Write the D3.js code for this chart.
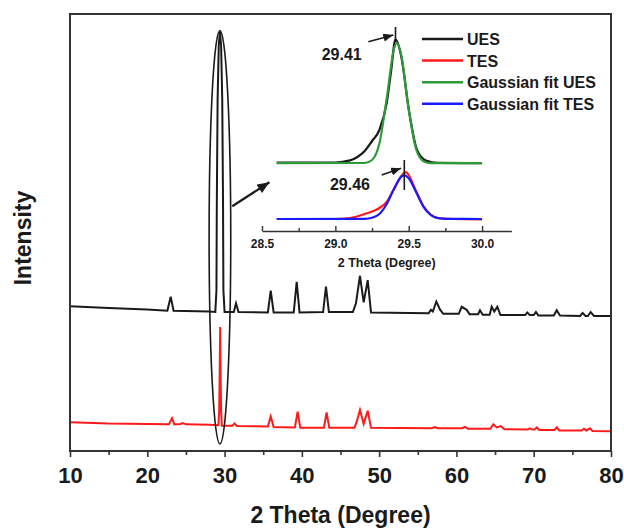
<!DOCTYPE html>
<html>
<head>
<meta charset="utf-8">
<script src="https://cdn.jsdelivr.net/npm/d3@7"></script>
<style>
body { margin: 0; background: #fff; }
text { font-family: "Liberation Sans", Arial, sans-serif; font-weight: bold; fill: #1a1a1a; }
</style>
</head>
<body>
<svg id="chartSvg"></svg>
<script>
// main pattern, [2 theta, intensity (a.u.)]
uesMain = [[10,33.1],[15,32.7],[20,32.4],[22.6,32.1],[23.03,35.3],[23.4,32.1],[28,31.9],[28.8,31.8],
  [28.95,36.8],[29.0,57.4],[29.1,80.3],[29.25,92.9],[29.4,95.9],[29.55,92.9],[29.7,80.3],[29.8,57.4],[29.85,36.8],[30.0,31.8],
  [31.2,31.8],[31.48,33.8],[31.8,31.8],[35.6,31.7],[35.97,36.7],[36.35,31.7],[38.95,31.7],[39.33,38.7],[39.7,31.7],
  [42.75,31.8],[43.12,37.6],[43.5,31.8],[46.6,31.8],[47.0,33.8],[47.52,40.1],[48.0,34.0],[48.52,39.1],[48.95,31.7],
  [56.4,31.5],[56.7,32.3],[56.95,31.9],[57.4,34.2],[57.9,32.3],[58.3,31.4],[60.3,31.4],[60.68,33.0],[61.33,32.3],[61.7,31.3],
  [62.8,31.3],[63.05,32.2],[63.4,31.2],[64.3,31.2],[64.56,33.0],[64.9,31.9],[65.29,33.0],[65.7,31.1],[68.9,31.1],[69.17,31.7],
  [69.5,31.1],[70.0,31.1],[70.29,31.8],[70.6,31.0],[72.6,31.0],[72.97,32.2],[73.4,31.0],[76.0,30.9],[76.33,31.6],[76.7,30.9],
  [77.0,30.9],[77.37,31.8],[77.8,30.9],[80,30.9]]
tesMain = [[10,6.6],[15,6.3],[20,6.2],[22.8,6.1],[23.2,7.5],[23.5,6.1],[24.3,6.2],[24.6,6.4],[25,6.1],[28,6.0],[29.2,5.9],
  [29.3,9.0],[29.36,16.3],[29.43,28.4],[29.5,16.3],[29.56,9.0],[29.65,5.8],[31.0,5.8],[31.3,6.3],[31.6,5.7],
  [35.6,5.6],[35.97,7.9],[36.35,5.5],[39.1,5.4],[39.45,9.0],[39.8,5.3],[42.85,5.3],[43.2,8.8],[43.55,5.3],
  [46.8,5.3],[47.1,6.7],[47.52,9.4],[48.0,6.2],[48.52,9.2],[48.95,5.3],[56.8,5.2],[57.2,5.5],[57.6,5.2],
  [60.7,5.2],[61.1,5.5],[61.5,5.1],[64.4,5.1],[64.77,6.1],[65.2,5.4],[65.76,5.7],[66.2,5.0],[69.2,4.9],[69.5,5.2],
  [69.8,4.9],[70.1,4.9],[70.4,5.4],[70.7,4.8],[72.7,4.8],[73.0,5.4],[73.3,4.7],[76.2,4.7],[76.5,5.1],[76.8,4.7],
  [77.3,5.2],[77.6,4.6],[80,4.5]]

// inset, 28.6 - 30.0 degree
uesInset = [[28.6,34.2],[29.0,34.2],[29.1,35.3],[29.15,37.0],[29.2,40.0],[29.25,45.0],[29.3,50.5],[29.35,64.0],[29.38,80.0],
  [29.41,95.8],[29.45,87.0],[29.5,61.0],[29.55,42.0],[29.6,36.0],[29.65,34.5],[29.7,34.1],[30.0,33.9]]
tesInset = [[28.6,6.0],[29.0,6.0],[29.1,6.5],[29.2,8.5],[29.3,11.5],[29.35,14.5],[29.4,21.0],[29.45,27.5],[29.48,29.4],
  [29.55,20.0],[29.6,12.5],[29.65,8.2],[29.7,6.5],[29.8,6.0],[30.0,5.8]]
uesFit = [[28.6,33.9],[29.2,34.0],[29.25,35.5],[29.3,43.7],[29.35,66.3],[29.4,91.1],[29.42,94.0],[29.45,87.6],
  [29.5,60.8],[29.55,41.1],[29.6,34.9],[29.65,33.9],[30.0,33.9]]
tesFit = [[28.6,6.0],[29.2,6.1],[29.25,6.6],[29.3,8.5],[29.35,13.5],[29.4,21.1],[29.45,27.2],[29.47,27.8],[29.5,26.4],
  [29.55,19.5],[29.6,12.2],[29.65,8.0],[29.7,6.4],[29.75,6.05],[30.0,6.0]]

mainTicks = [10, 20, 30, 40, 50, 60, 70, 80]
mainMinorTicks = [15, 25, 35, 45, 55, 65, 75]
insetTicks = [28.5, 29.0, 29.5, 30.0]
insetMinorTicks = [28.75, 29.25, 29.75]

legendNames = ['UES', 'TES', 'Gaussian fit UES', 'Gaussian fit TES']
legendColors = ['#1a1a1a', '#ff1a1a', '#2f9a3a', '#1a1aff']

peakLabels = ['29.41', '29.46']

let width = 624
let height = 529
let margin = { top: 14, right: 13, bottom: 78, left: 70 }
let chartWidth = width - margin.left - margin.right
let chartHeight = height - margin.top - margin.bottom

const svg = d3.select('#chartSvg')
    .attr('width', width)
    .attr('height', height)

const defs = svg.append('defs')
defs.append('marker')
    .attr('id', 'headBig')
    .attr('markerUnits', 'userSpaceOnUse')
    .attr('viewBox', '0 -5 12 10')
    .attr('refX', 12).attr('refY', 0)
    .attr('markerWidth', 13).attr('markerHeight', 10)
    .attr('orient', 'auto')
    .append('path').attr('d', 'M0,-5L12,0L0,5Z').attr('fill', '#1a1a1a')
defs.append('marker')
    .attr('id', 'headSmall')
    .attr('markerUnits', 'userSpaceOnUse')
    .attr('viewBox', '0 -4 10 8')
    .attr('refX', 10).attr('refY', 0)
    .attr('markerWidth', 10).attr('markerHeight', 8)
    .attr('orient', 'auto')
    .append('path').attr('d', 'M0,-4L10,0L0,4Z').attr('fill', '#1a1a1a')

const g = svg.append('g')
    .attr('transform', `translate(${margin.left},${margin.top})`)

xScale = d3.scaleLinear().domain([10, 80]).range([0, chartWidth])
yScale = d3.scaleLinear().domain([0, 100]).range([chartHeight, 0])

line = d3.line().x(d => xScale(d[0])).y(d => yScale(d[1]))

g.append('path').datum(uesMain)
    .attr('d', line)
    .attr('fill', 'none').attr('stroke', legendColors[0]).attr('stroke-width', 2)
g.append('path').datum(tesMain)
    .attr('d', line)
    .attr('fill', 'none').attr('stroke', legendColors[1]).attr('stroke-width', 2)

// ellipse round the 29.4 peak
let ellTheta = [28.0, 30.8]
let ellInt = [1.6, 96.2]
g.append('ellipse')
    .attr('cx', (xScale(ellTheta[0]) + xScale(ellTheta[1])) / 2)
    .attr('cy', (yScale(ellInt[0]) + yScale(ellInt[1])) / 2)
    .attr('rx', (xScale(ellTheta[1]) - xScale(ellTheta[0])) / 2)
    .attr('ry', (yScale(ellInt[0]) - yScale(ellInt[1])) / 2)
    .attr('fill', 'none').attr('stroke', '#1a1a1a').attr('stroke-width', 1.6)

g.append('line')
    .attr('x1', xScale(31.0)).attr('y1', yScale(56.0))
    .attr('x2', xScale(35.8)).attr('y2', yScale(61.5))
    .attr('stroke', '#1a1a1a').attr('stroke-width', 2.2)
    .attr('marker-end', 'url(#headBig)')

// frame
g.append('rect')
    .attr('width', chartWidth).attr('height', chartHeight)
    .attr('fill', 'none').attr('stroke', '#333').attr('stroke-width', 2)

xAxis = d3.axisBottom(xScale).tickValues(mainTicks).tickSizeInner(6).tickSizeOuter(0).tickPadding(10).tickFormat(d3.format('d'))
xMinor = d3.axisBottom(xScale).tickValues(mainMinorTicks).tickSizeInner(4).tickSizeOuter(0).tickFormat('')

ax = g.append('g').attr('transform', `translate(0,${chartHeight})`).call(xAxis)
ax.select('.domain').remove()
ax.selectAll('line').attr('stroke', '#333').attr('stroke-width', 1.6)
ax.selectAll('text').attr('font-size', 22).attr('fill', '#1a1a1a')
  .style('font-family', '"Liberation Sans", Arial, sans-serif').style('font-weight', 'bold')
axm = g.append('g').attr('transform', `translate(0,${chartHeight})`).call(xMinor)
axm.select('.domain').remove()
axm.selectAll('line').attr('stroke', '#333').attr('stroke-width', 1.6)

svg.append('text')
    .attr('x', margin.left + chartWidth / 2).attr('y', 523)
    .attr('text-anchor', 'middle').attr('font-size', 23)
    .text('2 Theta (Degree)')
svg.append('text')
    .attr('transform', 'translate(31,238) rotate(-90)')
    .attr('text-anchor', 'middle').attr('font-size', 23)
    .text('Intensity')

// inset
xInset = d3.scaleLinear().domain([28.5, 30.2]).range([262, 511.4])
yInset = d3.scaleLinear().domain([0, 100]).range([231, 31])
insetLine = d3.line().curve(d3.curveMonotoneX).x(d => xInset(d[0])).y(d => yInset(d[1]))

insetSeries = [uesInset, tesInset, uesFit, tesFit]
svg.append('g').selectAll('.insetLine').data(insetSeries)
    .enter()
    .append('path')
    .attr('class', 'insetLine')
    .attr('d', insetLine)
    .attr('fill', 'none')
    .attr('stroke', (d, i) => legendColors[i])
    .attr('stroke-width', 2.2)

ix = svg.append('g').attr('transform', 'translate(0,231)')
    .call(d3.axisBottom(xInset).tickValues(insetTicks).tickSizeInner(-5).tickSizeOuter(0).tickPadding(8).tickFormat(d3.format('.1f')))
ix.select('.domain').attr('stroke', '#333').attr('stroke-width', 1.6)
ix.selectAll('line').attr('stroke', '#333').attr('stroke-width', 1.4)
ix.selectAll('text').attr('font-size', 12).attr('fill', '#1a1a1a')
  .style('font-family', '"Liberation Sans", Arial, sans-serif').style('font-weight', 'bold')
ixm = svg.append('g').attr('transform', 'translate(0,231)')
    .call(d3.axisBottom(xInset).tickValues(insetMinorTicks).tickSizeInner(-3).tickSizeOuter(0).tickFormat(''))
ixm.select('.domain').remove()
ixm.selectAll('line').attr('stroke', '#333').attr('stroke-width', 1.4)

svg.append('text')
    .attr('x', xInset(29.35)).attr('y', 267)
    .attr('text-anchor', 'middle').attr('font-size', 12.5)
    .text('2 Theta (Degree)')

// peak markers in the inset
markerTheta = [29.41, 29.47]
markerInt = [[94.5, 102], [20.5, 35.5]]
arrowFrom = [[29.225, 94.6], [29.316, 28.0]]
arrowTo = [[29.395, 98.0], [29.448, 31.4]]
labelPos = [[29.18, 85.5], [29.236, 20.5]]

markerTheta.forEach((t, i) => {
    svg.append('line')
        .attr('x1', xInset(t)).attr('x2', xInset(t))
        .attr('y1', yInset(markerInt[i][0])).attr('y2', yInset(markerInt[i][1]))
        .attr('stroke', '#1a1a1a').attr('stroke-width', 1.6)
    svg.append('line')
        .attr('x1', xInset(arrowFrom[i][0])).attr('y1', yInset(arrowFrom[i][1]))
        .attr('x2', xInset(arrowTo[i][0])).attr('y2', yInset(arrowTo[i][1]))
        .attr('stroke', '#1a1a1a').attr('stroke-width', 1.6)
        .attr('marker-end', 'url(#headSmall)')
    svg.append('text')
        .attr('x', xInset(labelPos[i][0])).attr('y', yInset(labelPos[i][1]))
        .attr('text-anchor', 'end').attr('font-size', 16)
        .text(peakLabels[i])
})

// legend
legend = svg.append('g').attr('transform', 'translate(422,39)')
legendNames.forEach((name, i) => {
    let row = legend.append('g').attr('transform', `translate(0,${i * 21.6})`)
    row.append('line').attr('x1', 0).attr('x2', 41).attr('y1', 0).attr('y2', 0)
        .attr('stroke', legendColors[i]).attr('stroke-width', 2.5)
    row.append('text').attr('x', 45).attr('y', 6).attr('font-size', 16).text(name)
})
</script>
</body>
</html>
